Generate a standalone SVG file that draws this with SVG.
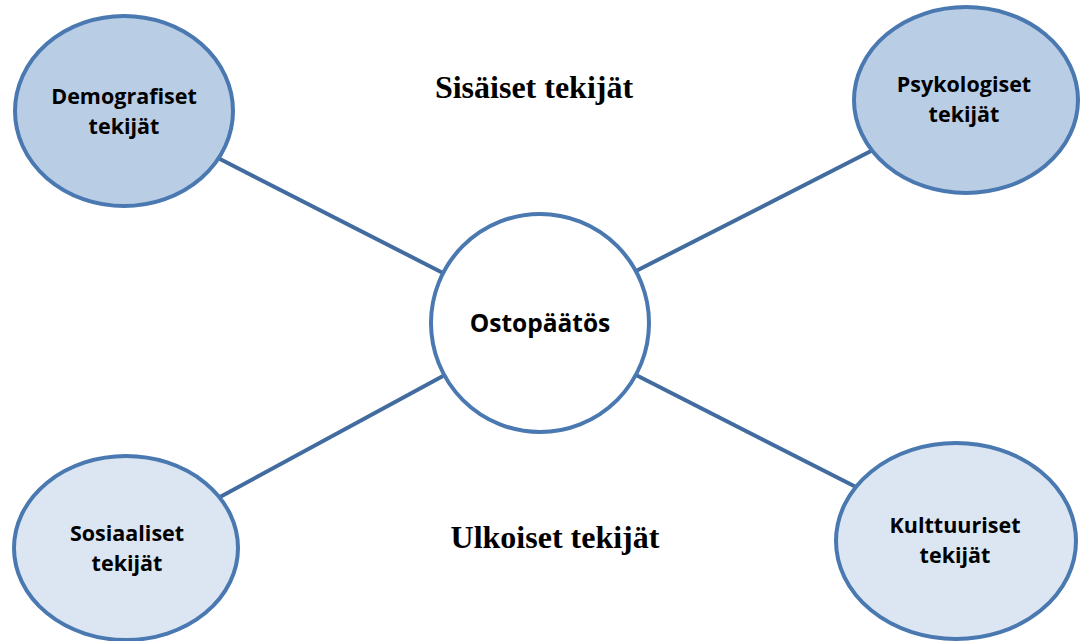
<svg xmlns="http://www.w3.org/2000/svg" width="1080" height="641" viewBox="0 0 1080 641">
<style>
.node{stroke:#4a78b0;stroke-width:4}
.top{fill:#b9cde5}
.bot{fill:#dce6f2}
.ctr{fill:#ffffff}
.lbl{font-family:"Open Sans","Liberation Sans",sans-serif;font-weight:bold;font-size:21.5px;fill:#000;text-anchor:middle}
.big{font-family:"Liberation Serif",serif;font-weight:bold;font-size:32px;fill:#000;text-anchor:middle}
.conn line{stroke:#426c9f;stroke-width:4}
</style>
<rect width="1080" height="641" fill="#fff"/>
<g id="connectors" class="conn">
<line x1="218" y1="158" x2="443" y2="273"/>
<line x1="873" y1="150" x2="636" y2="271"/>
<line x1="220" y1="497" x2="443" y2="376"/>
<line x1="636" y1="375" x2="856" y2="487"/>
</g>
<g id="demografiset">
<ellipse class="node top" cx="124" cy="111" rx="109" ry="95"/>
<text class="lbl" x="124" y="104">Demografiset</text>
<text class="lbl" x="124" y="134">tekijät</text>
</g>
<g id="psykologiset">
<ellipse class="node top" cx="966" cy="100" rx="112" ry="93"/>
<text class="lbl" x="964" y="92">Psykologiset</text>
<text class="lbl" x="964" y="122">tekijät</text>
</g>
<g id="sosiaaliset">
<ellipse class="node bot" cx="126" cy="548" rx="112" ry="92"/>
<text class="lbl" x="127" y="541">Sosiaaliset</text>
<text class="lbl" x="127" y="571">tekijät</text>
</g>
<g id="kulttuuriset">
<ellipse class="node bot" cx="956" cy="541" rx="120" ry="98"/>
<text class="lbl" x="955" y="533">Kulttuuriset</text>
<text class="lbl" x="955" y="563">tekijät</text>
</g>
<g id="ostopaatos">
<circle class="node ctr" cx="540" cy="323" r="109"/>
<text class="lbl" x="540" y="332" style="font-size:24.5px">Ostopäätös</text>
</g>
<text class="big" x="534" y="98">Sisäiset tekijät</text>
<text class="big" x="555" y="548">Ulkoiset tekijät</text>
</svg>
